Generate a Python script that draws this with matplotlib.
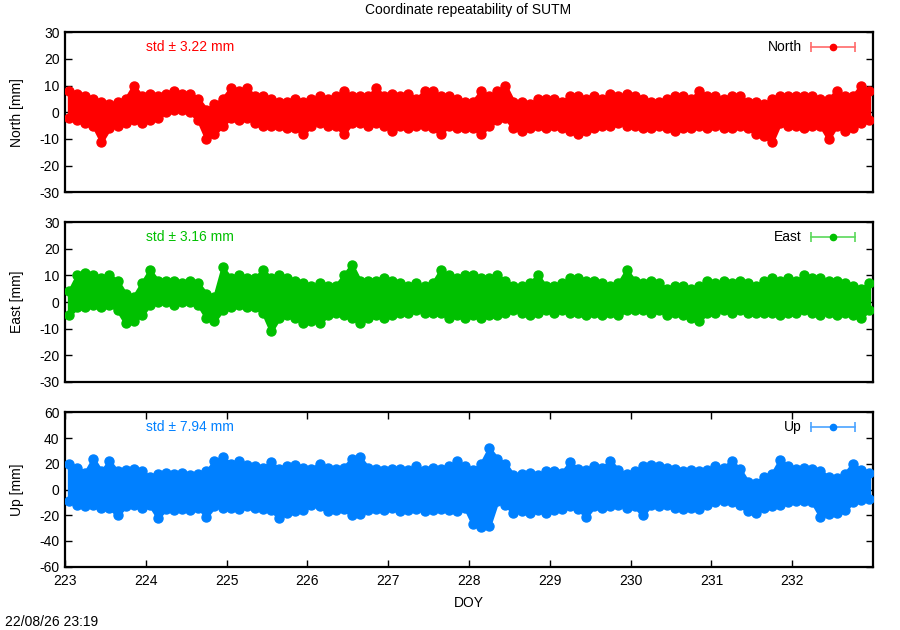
import numpy as np
import matplotlib
matplotlib.use("Agg")
import matplotlib.pyplot as plt

plt.rcParams['font.family'] = ['Liberation Sans', 'DejaVu Sans']
plt.rcParams['axes.unicode_minus'] = False

title = "Coordinate repeatability of SUTM"
stamp = "22/08/26 23:19"
doy_start = 223.0
bin_days = 0.1
xticks = list(range(223, 233))

north_hi = [8, 7, 6, 5, 4, 3, 4, 5, 10, 6,
            7, 6, 7, 8, 7, 7, 5, 1, 3, 5,
            9, 8, 9, 6, 6, 5, 4, 4, 5, 4,
            5, 6, 5, 6, 8, 6, 6, 6, 9, 6,
            7, 6, 7, 5, 8, 8, 6, 6, 5, 4,
            4, 8, 6, 8, 10, 4, 4, 3, 5, 5,
            5, 4, 6, 6, 5, 6, 5, 7, 6, 7,
            6, 5, 4, 4, 5, 6, 6, 5, 8, 6,
            6, 5, 6, 6, 4, 4, 3, 5, 6, 6,
            6, 6, 6, 5, 5, 8, 6, 6, 10, 8]
north_lo = [-2, -3, -4, -5, -11, -6, -5, -4, -3, -4,
            -3, -2, 0, 1, 1, 0, -3, -10, -8, -5,
            -2, -3, -2, -4, -5, -5, -5, -6, -6, -8,
            -5, -4, -5, -5, -8, -4, -4, -5, -4, -5,
            -7, -5, -6, -5, -5, -6, -8, -5, -6, -6,
            -6, -8, -5, -3, -2, -6, -7, -6, -5, -6,
            -5, -6, -7, -8, -7, -6, -5, -5, -4, -5,
            -5, -6, -6, -5, -6, -7, -6, -6, -5, -6,
            -5, -6, -6, -5, -6, -8, -9, -11, -4, -5,
            -5, -6, -5, -5, -10, -5, -7, -6, -4, -3]

east_hi = [4, 10, 11, 10, 9, 10, 8, 3, 2, 7,
           12, 8, 8, 8, 7, 8, 7, 3, 2, 13,
           9, 10, 9, 9, 12, 9, 10, 9, 8, 7,
           6, 7, 6, 6, 10, 14, 8, 8, 8, 9,
           8, 7, 6, 7, 6, 7, 12, 10, 9, 10,
           10, 9, 9, 10, 8, 6, 6, 7, 10, 6,
           6, 7, 9, 9, 8, 8, 7, 6, 7, 12,
           8, 7, 8, 7, 5, 6, 6, 5, 6, 8,
           7, 8, 7, 8, 7, 6, 8, 9, 8, 9,
           8, 10, 9, 9, 8, 8, 7, 6, 5, 7]
east_lo = [-5, -2, -2, -1, -2, -1, -3, -8, -7, -5,
           -1, 0, 0, -1, 0, 0, -1, -6, -7, -3,
           -2, -1, -2, -2, -4, -11, -6, -5, -6, -8,
           -7, -8, -5, -4, -5, -6, -8, -6, -5, -6,
           -5, -4, -4, -3, -4, -4, -4, -6, -5, -6,
           -5, -6, -5, -5, -4, -3, -4, -5, -4, -3,
           -4, -3, -4, -4, -5, -4, -5, -4, -5, -3,
           -3, -3, -4, -3, -5, -4, -5, -6, -7, -4,
           -4, -3, -4, -3, -4, -4, -4, -4, -5, -4,
           -4, -3, -4, -5, -4, -5, -4, -5, -6, -3]

up_hi = [20, 17, 13, 24, 14, 22, 14, 15, 16, 14,
         10, 12, 13, 12, 13, 11, 12, 14, 22, 25,
         20, 22, 19, 18, 17, 21, 16, 18, 19, 17,
         16, 20, 17, 16, 17, 24, 25, 17, 16, 15,
         16, 16, 15, 18, 15, 17, 16, 18, 22, 18,
         15, 20, 32, 24, 20, 11, 12, 13, 11, 14,
         14, 13, 21, 16, 15, 18, 17, 22, 15, 12,
         14, 18, 19, 18, 17, 16, 14, 15, 14, 15,
         18, 17, 22, 16, 6, 5, 10, 12, 23, 18,
         16, 17, 16, 14, 10, 9, 12, 20, 15, 13]
up_lo = [-9, -12, -13, -12, -14, -14, -20, -13, -12, -14,
         -12, -22, -15, -16, -15, -16, -14, -21, -13, -14,
         -14, -15, -13, -14, -15, -16, -22, -18, -17, -16,
         -12, -13, -17, -16, -15, -20, -19, -16, -15, -16,
         -14, -17, -16, -15, -17, -16, -15, -16, -17, -14,
         -27, -29, -28, -9, -12, -18, -17, -18, -16, -18,
         -16, -15, -13, -15, -21, -13, -14, -13, -12, -14,
         -13, -20, -12, -13, -12, -14, -15, -14, -15, -12,
         -10, -9, -10, -12, -17, -18, -14, -13, -12, -10,
         -9, -9, -10, -21, -19, -18, -16, -10, -8, -7]

panels = [
    ("North", "North [mm]", north_hi, north_lo, "#ff0000", "#ff6a6a", "std \u00b1 3.22 mm", (-30, 30), list(range(-30, 31, 10))),
    ("East", "East [mm]", east_hi, east_lo, "#00c000", "#5ad85a", "std \u00b1 3.16 mm", (-30, 30), list(range(-30, 31, 10))),
    ("Up", "Up [mm]", up_hi, up_lo, "#0080ff", "#4aa3ff", "std \u00b1 7.94 mm", (-60, 60), list(range(-60, 61, 20))),
]

fig = plt.figure(figsize=(9, 6.3), dpi=100)
rects = [
    [65 / 900, (630 - 192.3) / 630, 808 / 900, 160 / 630],
    [65 / 900, (630 - 381.7) / 630, 808 / 900, 159.4 / 630],
    [65 / 900, (630 - 566.7) / 630, 808 / 900, 154.4 / 630],
]

for k, (name, ylab, hi, lo, col, lcol, stdtxt, ylim, yt) in enumerate(panels):
    ax = fig.add_axes(rects[k])
    n = len(hi)
    doy = doy_start + bin_days * (np.arange(n) + 0.5)
    ax.fill_between(doy, lo, hi, color=col, lw=2.5, edgecolor=col, zorder=2)
    ax.plot(doy, hi, 'o', color=col, ms=6.5, mec=col, zorder=3)
    ax.plot(doy, lo, 'o', color=col, ms=6.5, mec=col, zorder=3)
    ax.set_xlim(223, 233)
    ax.set_ylim(*ylim)
    ax.set_yticks(yt)
    ax.set_ylabel(ylab, fontsize=10, labelpad=11)
    ax.tick_params(axis='y', direction='in', left=True, right=True, length=5,
                   width=1, labelsize=10, colors='black', pad=4)
    for s in ax.spines.values():
        s.set_linewidth(1.6)
    if name == "Up":
        ax.set_xticks(xticks)
        ax.tick_params(axis='x', direction='in', top=True, bottom=True, length=5,
                       width=1, labelsize=10, pad=5)
        ax.set_xlabel("DOY", fontsize=10, labelpad=6)
    else:
        ax.set_xticks([])
    ax.text(0.100, 0.908, stdtxt, transform=ax.transAxes, color=col,
            fontsize=10, ha='left', va='center')
    ax.text(0.912, 0.908, name, transform=ax.transAxes, color='black',
            fontsize=10, ha='right', va='center')
    ax.plot([0.923, 0.978], [0.908, 0.908], transform=ax.transAxes,
            color=lcol, lw=1.2, clip_on=False, zorder=5)
    ax.plot([0.923, 0.978], [0.908, 0.908], '|', transform=ax.transAxes,
            color=lcol, ms=7, mew=1.2, clip_on=False, zorder=5)
    ax.plot([0.9505], [0.908], 'o', transform=ax.transAxes,
            color=col, ms=4.5, clip_on=False, zorder=6)

fig.text(468 / 900, 1 - 10 / 630, title, ha='center', va='center', fontsize=10)
fig.text(5 / 900, 1 - 622 / 630, stamp, ha='left', va='center', fontsize=10)

fig.savefig("out.png", dpi=100)
